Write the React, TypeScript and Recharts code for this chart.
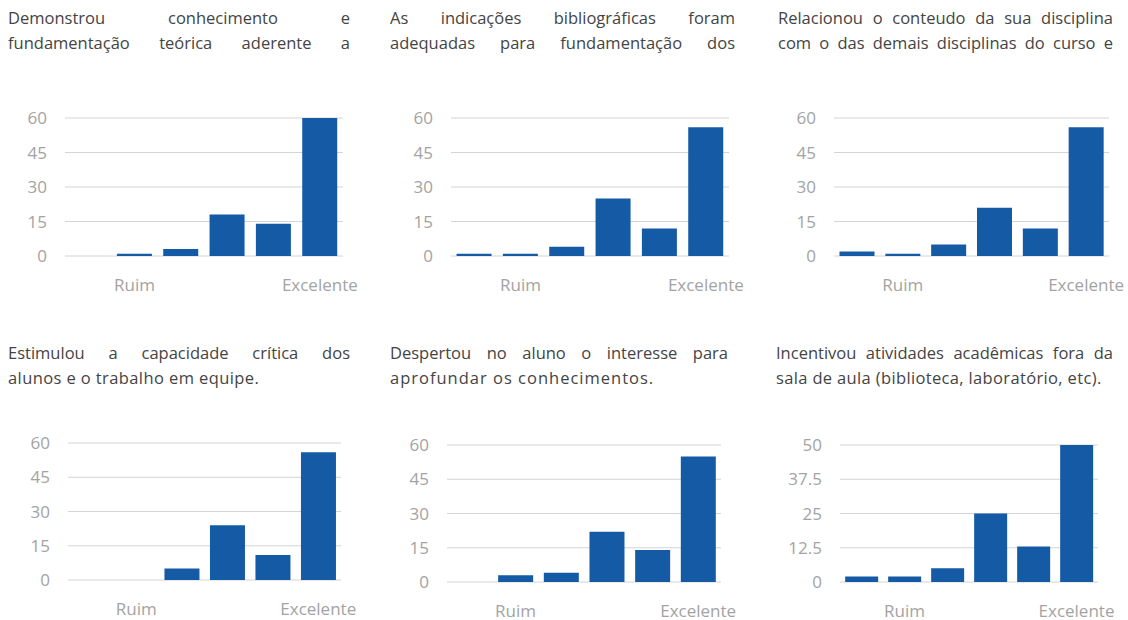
import React from 'react';
import { BarChart, Bar, XAxis, YAxis, CartesianGrid } from 'recharts';

const categories = ['1', '2', '3', '4', '5', '6'];
const tickLabels = ['', 'Ruim', '', '', '', 'Excelente'];

const conhecimento = [0, 1, 3, 18, 14, 60];
const bibliografia = [1, 1, 4, 25, 12, 56];
const relacionou = [2, 1, 5, 21, 12, 56];
const estimulou = [0, 0, 5, 24, 11, 56];
const despertou = [0, 3, 4, 22, 14, 55];
const incentivou = [2, 2, 5, 25, 13, 50];

const ticks60 = [0, 15, 30, 45, 60];
const ticks50 = [0, 12.5, 25, 37.5, 50];

const titles = [
  ['Demonstrou conhecimento e', 'fundamentação teórica aderente a'],
  ['As indicações bibliográficas foram', 'adequadas para fundamentação dos'],
  ['Relacionou o conteudo da sua disciplina', 'com o das demais disciplinas do curso e'],
  ['Estimulou a capacidade crítica dos', 'alunos e o trabalho em equipe.'],
  ['Despertou no aluno o interesse para', 'aprofundar os conhecimentos.'],
  ['Incentivou atividades acadêmicas fora da', 'sala de aula (biblioteca, laboratório, etc).'],
];

const FONT = '"Open Sans", sans-serif';
const BLUE = '#145aa5';

// page-coordinate layout of every panel: title box and plot rectangle
const panels = [
  { values: conhecimento, ticks: ticks60, title: titles[0], justify2: true, ls: 0, tx: 8, tw: 342, ty: 5, px: 65, pw: 278, py: 118, ph: 138 },
  { values: bibliografia, ticks: ticks60, title: titles[1], justify2: true, ls: 0, tx: 390, tw: 345, ty: 5, px: 451, pw: 278, py: 118, ph: 138 },
  { values: relacionou, ticks: ticks60, title: titles[2], justify2: true, ls: 0, tx: 778, tw: 335, ty: 5, px: 834, pw: 275, py: 118, ph: 138 },
  { values: estimulou, ticks: ticks60, title: titles[3], justify2: false, ls: 0.4, tx: 8, tw: 342, ty: 340, px: 68, pw: 273, py: 443, ph: 137 },
  { values: despertou, ticks: ticks60, title: titles[4], justify2: false, ls: 1, tx: 390, tw: 338, ty: 340, px: 447, pw: 274, py: 445, ph: 137 },
  { values: incentivou, ticks: ticks50, title: titles[5], justify2: false, ls: 0.35, tx: 776, tw: 337, ty: 340, px: 840, pw: 258, py: 445, ph: 137 },
];

const YW = 60;
const TOP = 20;
const RIGHT = 40;
const XH = 45;

const Panel = ({ p }: { p: typeof panels[number] }) => {
  const data = categories.map((c, i) => ({ cat: c, value: p.values[i] }));
  const max = p.ticks[p.ticks.length - 1];
  const lineStyle = (justify: boolean, ls: number): React.CSSProperties => ({
    whiteSpace: 'nowrap',
    letterSpacing: ls,
    textAlign: justify ? 'justify' : 'left',
    textAlignLast: justify ? 'justify' : 'left',
  });
  return (
    <>
      <div
        style={{
          position: 'absolute',
          left: p.tx,
          top: p.ty,
          width: p.tw,
          fontFamily: FONT,
          fontSize: 16.5,
          lineHeight: '25px',
          color: '#444',
        }}
      >
        <div style={lineStyle(true, 0)}>{p.title[0]}</div>
        <div style={lineStyle(p.justify2, p.ls)}>{p.title[1]}</div>
      </div>
      <div style={{ position: 'absolute', left: p.px - YW, top: p.py - TOP }}>
        <BarChart
          width={p.pw + YW + RIGHT}
          height={p.ph + TOP + XH}
          data={data}
          margin={{ top: TOP, right: RIGHT, left: 0, bottom: 0 }}
          barCategoryGap="12%"
          style={{ overflow: 'visible' }}
        >
          <CartesianGrid vertical={false} stroke="#d4d4d4" />
          <XAxis
            dataKey="cat"
            height={XH}
            axisLine={false}
            tickLine={false}
            tickSize={0}
            tickMargin={23}
            interval={0}
            tickFormatter={(_v: string, i: number) => tickLabels[i]}
            tick={{ fill: '#a3a3a3', fontSize: 17, fontFamily: FONT }}
          />
          <YAxis
            width={YW}
            domain={[0, max]}
            ticks={p.ticks}
            axisLine={false}
            tickLine={false}
            tickSize={0}
            tickMargin={18}
            tick={{ fill: '#a3a3a3', fontSize: 17, fontFamily: FONT }}
          />
          <Bar dataKey="value" fill={BLUE} isAnimationActive={false} />
        </BarChart>
      </div>
    </>
  );
};

export default function App() {
  return (
    <div style={{ position: 'absolute', left: 0, top: 0, width: 1128, height: 620, background: '#fff' }}>
      {panels.map((p, i) => (
        <Panel key={i} p={p} />
      ))}
    </div>
  );
}
